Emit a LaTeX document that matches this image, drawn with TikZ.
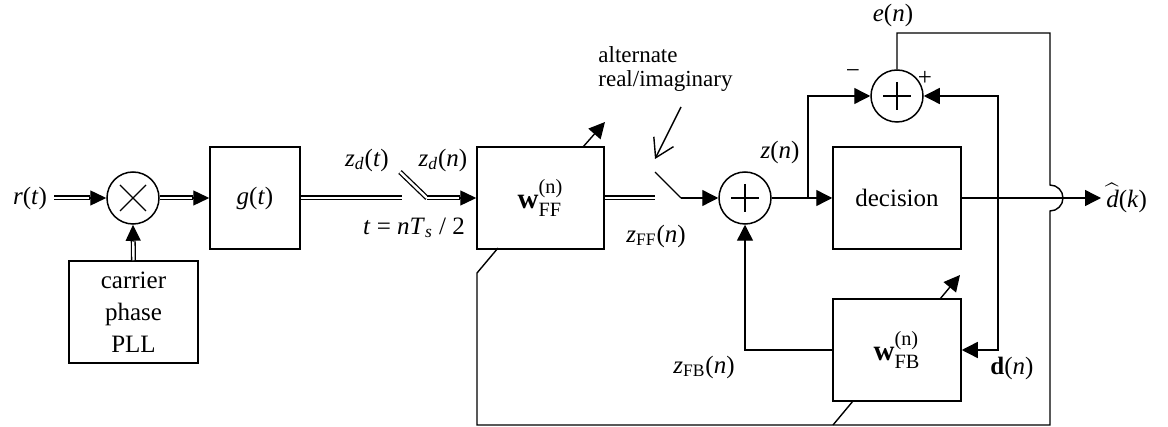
\documentclass[tikz,border=0pt]{standalone}
\usepackage{amsmath}
\usepackage{fontspec}
\setmainfont{Liberation Serif}
\usetikzlibrary{arrows.meta,calc}
\newcommand\dblarr[2]{%
  \draw[dbl] (#1) -- ($(#2)!8pt!(#1)$);
  \draw[tipline] ($(#2)!8.5pt!(#1)$) -- (#2);}
\begin{document}
\begin{tikzpicture}[x=0.5pt,y=-0.5pt,
  every node/.style={font=\fontsize{12.5}{16}\selectfont},
  lw/.style={line width=0.7pt},
  blk/.style={draw,line width=0.75pt,minimum width=#1,minimum height=51pt,inner sep=0pt,fill=white,align=center},
  circ/.style={draw,circle,minimum size=26pt,inner sep=0pt,line width=0.75pt},
  arr/.style={line width=0.7pt,-{Triangle[length=8pt,width=8pt]}},
  tipline/.style={line width=0.7pt,-{Triangle[length=8pt,width=7.5pt]}},
  dbl/.style={double,double distance=1.2pt,line width=0.65pt},
  barb/.style={line width=0.7pt,-{Straight Barb[length=9pt,width=11pt,line width=0.7pt]}},
  small/.style={font=\fontsize{11.5}{12}\selectfont},
  wlab/.style={font=\fontsize{14.5}{16}\selectfont}
]
\useasboundingbox (0,0) rectangle (1168,427);
% blocks
\node[circ] (mult) at (133,198) {};
\draw[lw] ($(mult)+(-13,-13)$) -- ($(mult)+(13,13)$);
\draw[lw] ($(mult)+(-13,13)$) -- ($(mult)+(13,-13)$);
\node[blk=64.5pt] (pll) at (133.5,312) {carrier\\phase\\PLL};
\node[blk=45pt] (g) at (255,198) {\textit{g}(\textit{t})};
\node[blk=63.5pt,wlab] (ff) at (540.5,198) {$\textbf{w}^{\text{(n)}}_{\text{FF}}$};
\node[circ] (sum) at (745,198) {};
\draw[lw] ($(sum)+(-14,0)$) -- ($(sum)+(14,0)$);
\draw[lw] ($(sum)+(0,-14)$) -- ($(sum)+(0,14)$);
\node[circ] (esum) at (897,96) {};
\draw[lw] ($(esum)+(-14,0)$) -- ($(esum)+(14,0)$);
\draw[lw] ($(esum)+(0,-14)$) -- ($(esum)+(0,14)$);
\node[blk=64pt] (dec) at (897,198) {decision};
\node[blk=64pt,wlab] (fb) at (897,350) {$\textbf{w}^{\text{(n)}}_{\text{FB}}$};
% labels
\node (rt) at (30,198) {\textit{r}(\textit{t})};
\node (zdt) at (367,160) {\textit{z}$_{\textit{d}}$(\textit{t})};
\node (zdn) at (443,160) {\textit{z}$_{\textit{d}}$(\textit{n})};
\node (tn) at (414,228) {\textit{t} = \textit{nT}$_{\textit{s}}$ / 2};
\node (zff) at (656,236) {\textit{z}$_{\text{FF}}$(\textit{n})};
\node[small,align=left,anchor=west,inner sep=0pt] (alt) at (598,69) {alternate\\real/imaginary};
\node (zn) at (780,152) {\textit{z}(\textit{n})};
\node (en) at (893,15) {\textit{e}(\textit{n})};
\node (minus) at (853,74) {\textminus};
\node (plus) at (925,78) {+};
\node (zfb) at (704,367) {\textit{z}$_{\text{FB}}$(\textit{n})};
\node (dn) at (1012,368) {\textbf{d}(\textit{n})};
\node[anchor=west,inner sep=1pt] (dh) at (1104,198) {$\widehat{\textit{d}}$(\textit{k})};
% coordinates
\coordinate (s1a) at (402,198);
\coordinate (s1b) at (400,172);
\coordinate (s1c) at (427,198);
\coordinate (s2a) at (655,198);
\coordinate (s2b) at (655,172);
\coordinate (s2c) at (681,198);
\coordinate (alt1) at (681,107);
\coordinate (alt2) at (655,159);
\coordinate (br) at (808,198);
\coordinate (jd) at (998,198);
\coordinate (etop) at (1050,33);
\coordinate (ehop) at (1050,185);
\coordinate (ebot) at (1050,425);
\coordinate (ffl) at (477,425);
\coordinate (ffa) at (477,273);
\coordinate (ffb) at (498,248);
\coordinate (ffc) at (583,147);
\coordinate (ffd) at (605,122);
\coordinate (fba) at (833,425);
\coordinate (fbb) at (853,401);
\coordinate (fbc) at (940,299);
\coordinate (fbd) at (960,275);
\coordinate (dhin) at (1101,198);
% double-line connectors
\dblarr{rt.east}{mult.west}
\dblarr{pll.north}{mult.south}
\dblarr{mult.east}{g.west}
\draw[dbl] (g.east) -- (s1a);
\draw[dbl] (s1b) -- (s1c);
\dblarr{s1c}{ff.west}
\draw[dbl] (ff.east) -- (s2a);
% switch and sum
\draw[lw] (s2b) -- (s2c);
\draw[arr] (s2c) -- (sum.west);
\draw[barb] (alt1) -- (alt2);
\draw[arr] (sum.east) -- (dec.west);
\draw[arr] (br) |- (esum.west);
\draw[arr] (dec.east) -- (dhin);
\draw[arr] (jd) |- (esum.east);
\draw[arr] (jd) |- (fb.east);
\draw[arr] (fb.west) -| (sum.south);
% error feedback loop
\draw[lw] (esum.north) |- (etop) -- (ehop) arc[start angle=90,end angle=-90,radius=6.5pt] -- (ebot) -- (ffl) -- (ffa) -- (ffb);
\draw[lw] (fba) -- (fbb);
\draw[arr] (ffc) -- (ffd);
\draw[arr] (fbc) -- (fbd);
\end{tikzpicture}
\end{document}
